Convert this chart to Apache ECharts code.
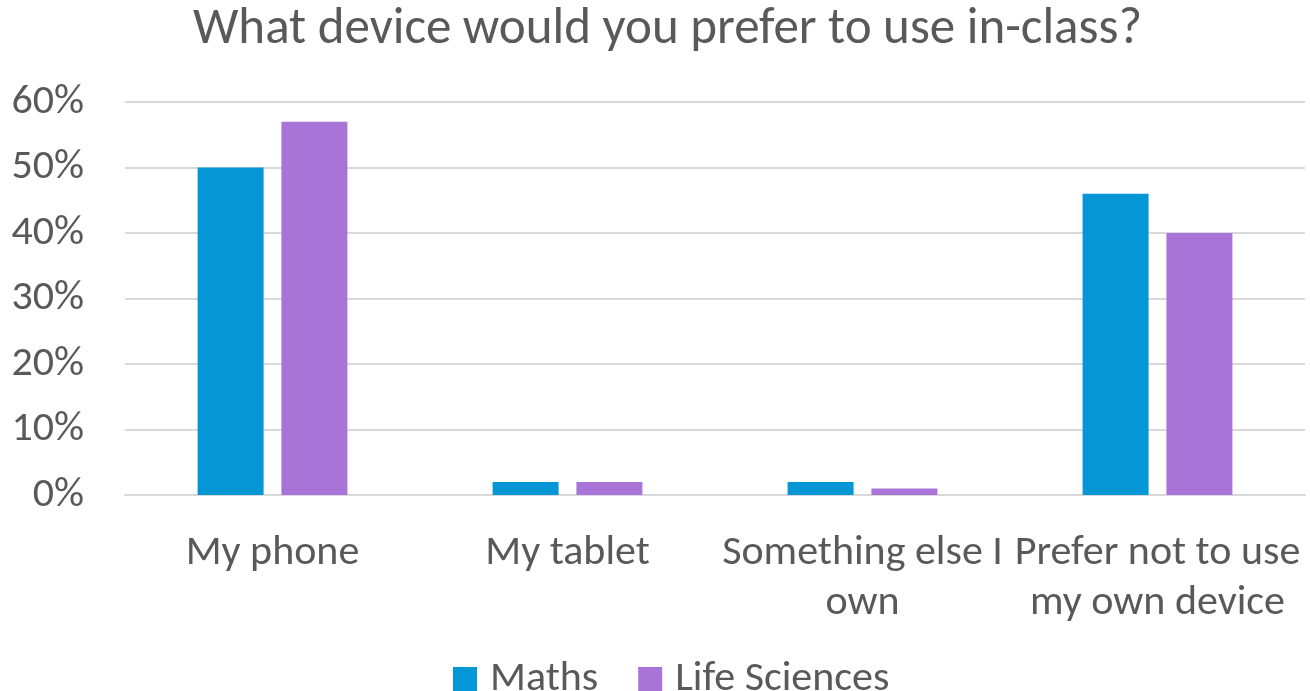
<!DOCTYPE html>
<html>
<head>
<meta charset="utf-8">
<script src="https://cdn.jsdelivr.net/npm/echarts@6/dist/echarts.min.js"></script>
<style>html,body{margin:0;padding:0;background:#fff}#c{width:1310px;height:691px}</style>
</head>
<body>
<div id="c"></div>
<script>
const categories = ['My phone', 'My tablet', 'Something else I\nown', 'Prefer not to use\nmy own device'];
const seriesNames = ['Maths', 'Life Sciences'];
const maths = [50, 2, 2, 46];
const lifeSciences = [57, 2, 1, 40];
const yTicks = [0, 10, 20, 30, 40, 50, 60];

const FONT = "Carlito, 'Open Sans', sans-serif";
const TXT = '#595959';
const chart = echarts.init(document.getElementById('c'));
chart.setOption({
  animation: false,
  textStyle: { fontFamily: FONT },
  title: {
    text: 'What device would you prefer to use in-class?',
    left: 188, top: 0,
    textStyle: { fontFamily: FONT, fontSize: 51, fontWeight: 'normal', color: TXT }
  },
  legend: {
    data: seriesNames,
    top: 653, left: 448,
    itemWidth: 24, itemHeight: 24, itemGap: 40,
    icon: 'rect',
    textStyle: { fontFamily: FONT, fontSize: 42, color: TXT, padding: [0, 0, 0, 8] }
  },
  grid: { left: 125, right: 5, top: 102, bottom: 196, containLabel: false },
  xAxis: {
    type: 'category',
    data: categories,
    axisLine: { show: true, lineStyle: { color: '#D9D9D9', width: 2 } },
    axisTick: { show: false },
    axisLabel: { interval: 0, margin: 33, fontFamily: FONT, fontSize: 42, color: TXT, lineHeight: 50 }
  },
  yAxis: {
    type: 'value', min: yTicks[0], max: yTicks[yTicks.length - 1], interval: 10,
    axisLine: { show: false }, axisTick: { show: false },
    splitLine: { lineStyle: { color: '#D9D9D9', width: 2 } },
    axisLabel: { margin: 41, fontFamily: FONT, fontSize: 42, color: TXT, formatter: v => v + '%' }
  },
  series: [
    { name: seriesNames[0], type: 'bar', data: maths, barWidth: 66, barGap: '27%', itemStyle: { color: '#0596D5' } },
    { name: seriesNames[1], type: 'bar', data: lifeSciences, barWidth: 66, barGap: '27%', itemStyle: { color: '#A974D7' } }
  ]
});
</script>
</body>
</html>
